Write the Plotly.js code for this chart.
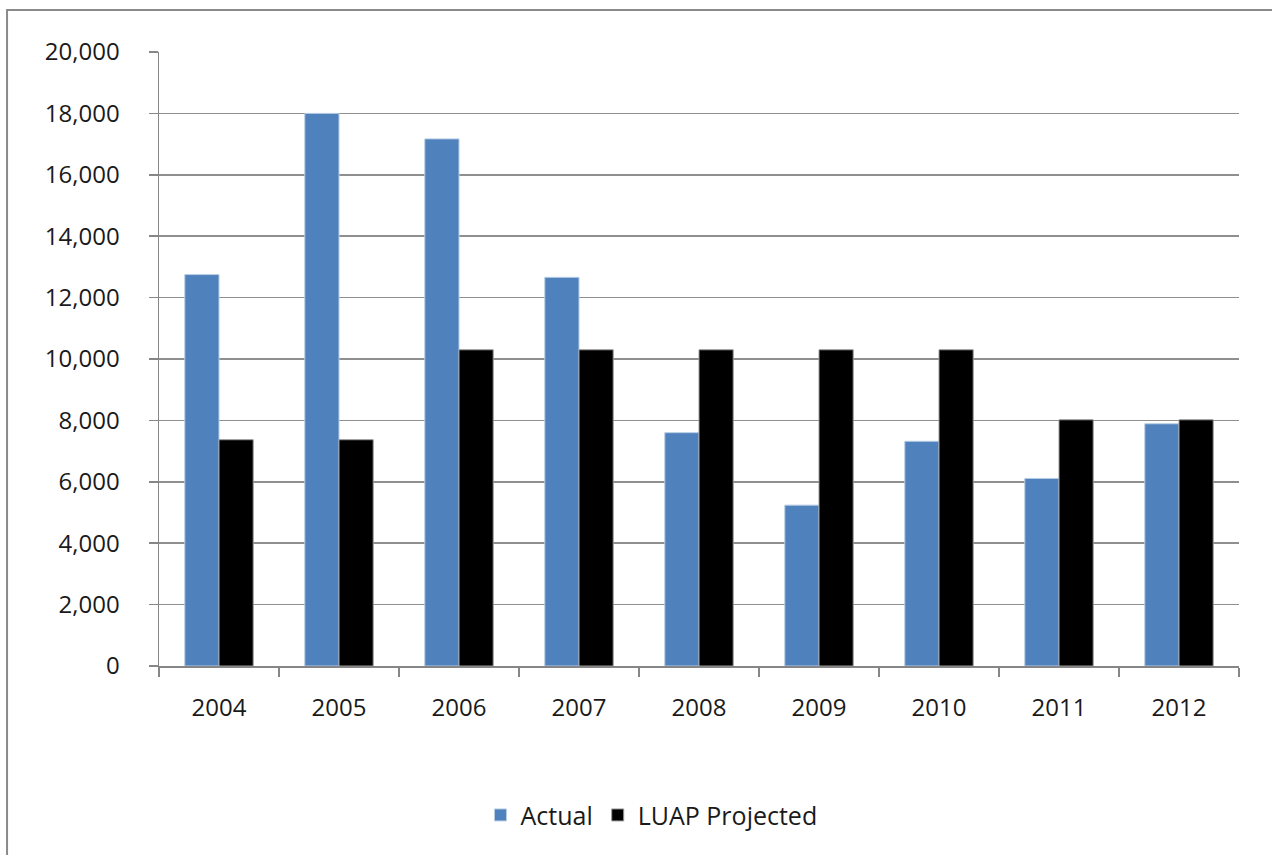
<!DOCTYPE html>
<html><head><meta charset="utf-8">
<script src="https://cdn.plot.ly/plotly-3.0.1.min.js"></script>
<style>html,body{margin:0;padding:0;background:#fff;overflow:hidden}#chart{width:1272px;height:855px}</style>
</head><body><div id="chart"></div>
<script>
const years = ['2004','2005','2006','2007','2008','2009','2010','2011','2012'];
const actual = [12750, 18000, 17170, 12660, 7600, 5240, 7320, 6110, 7890];
const projected = [7370, 7370, 10300, 10300, 10300, 10300, 10300, 8020, 8020];
const seriesNames = ['Actual', 'LUAP Projected'];

const font = {family: 'Open Sans, Lato, sans-serif', size: 24, color: '#1a1a1a'};
const data = [
  {type:'bar', name: seriesNames[0], x: years, y: actual,
   marker:{color:'#4F81BD', line:{color:'#b9cde5', width:1}}},
  {type:'bar', name: seriesNames[1], x: years, y: projected,
   marker:{color:'#000000', line:{color:'#9a9a9a', width:1}}}
];
const layout = {
  width:1272, height:855,
  margin:{l:159, r:33, t:52, b:189},
  paper_bgcolor:'#fff', plot_bgcolor:'#fff',
  font: font,
  barmode:'group', bargap:0.43, bargroupgap:0,
  showlegend:true,
  legend:{orientation:'h', x:0.456, xanchor:'center', y:-0.243, yanchor:'middle',
          font:{family:font.family, size:25, color:'#1a1a1a'}, itemwidth:30, tracegroupgap:0},
  xaxis:{type:'category', showgrid:false, showline:true, linecolor:'#868686', linewidth:1.5,
         ticks:'outside', tickson:'boundaries', ticklen:9, tickcolor:'#868686', tickwidth:1.5,
         ticklabelstandoff:20, tickfont:{size:24}},
  yaxis:{range:[0,20000], dtick:2000, tickformat:',d', showgrid:true, gridcolor:'#8f8f8f', gridwidth:1.5,
         showline:true, linecolor:'#868686', linewidth:1.5, zeroline:false,
         ticks:'outside', ticklen:9, tickcolor:'#868686', tickwidth:1.5,
         ticklabelstandoff:24, tickfont:{size:24}},
  shapes:[{type:'rect', xref:'paper', yref:'paper', x0:-0.1407, x1:1.3, y0:-1, y1:1.0684,
           line:{color:'#8a8a8a', width:2}, fillcolor:'rgba(0,0,0,0)', layer:'below'}]
};
Plotly.newPlot('chart', data, layout, {displayModeBar:false, staticPlot:true});
</script></body></html>
